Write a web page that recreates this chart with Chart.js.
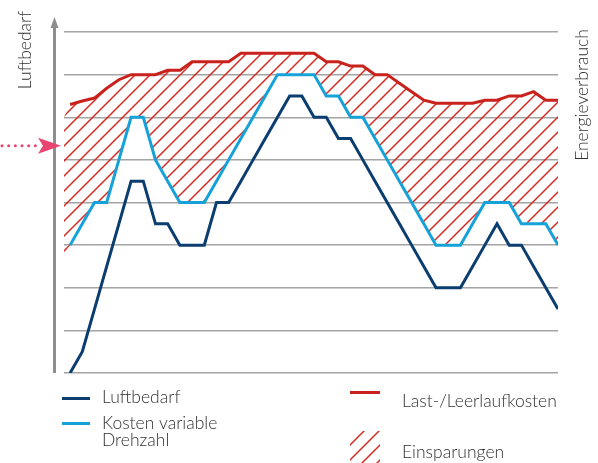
<!DOCTYPE html>
<html>
<head>
<meta charset="utf-8">
<script src="https://cdn.jsdelivr.net/npm/chart.js@4.4.1/dist/chart.umd.min.js"></script>
<style>
html, body { margin: 0; padding: 0; background: #fff; }
#wrap { width: 598px; height: 463px; }
</style>
</head>
<body>
<div id="wrap"><canvas id="c" width="598" height="463"></canvas></div>
<script>
// time steps along the x axis
const steps = [0,1,2,3,4,5,6,7,8,9,10,11,12,13,14,15,16,17,18,19,20,
               21,22,23,24,25,26,27,28,29,30,31,32,33,34,35,36,37,38,39,40];

const luftbedarf = [0,0.5,1.5,2.5,3.5,4.5,4.5,3.5,3.5,3,3,
                    3,4,4,4.5,5,5.5,6,6.5,6.5,6,
                    6,5.5,5.5,5,4.5,4,3.5,3,2.5,2,
                    2,2,2.5,3,3.5,3,3,2.5,2,1.5];

const kostenVariabel = [3,3.5,4,4,5,6,6,5,4.5,4,4,
                        4,4.5,5,5.5,6,6.5,7,7,7,7,
                        6.5,6.5,6,6,5.5,5,4.5,4,3.5,3,
                        3,3,3.5,4,4,4,3.5,3.5,3.5,3];

const lastLeerlauf = [6.3,6.38,6.45,6.68,6.88,7,7,7,7.1,7.1,7.3,
                      7.3,7.3,7.3,7.5,7.5,7.5,7.5,7.5,7.5,7.5,
                      7.3,7.3,7.2,7.2,7,7,6.8,6.6,6.4,6.33,
                      6.33,6.33,6.33,6.4,6.4,6.5,6.5,6.6,6.4,6.4];

// the hatched area starts a little left of the lines
const hatchStart = -0.5;
const hatchStartTop = 6.0;
const hatchStartBottom = 2.8;

const yTicks = [0,1,2,3,4,5,6,7,8];
const arrowLevel = 5.33;

const titleLeft = 'Luftbedarf';
const titleRight = 'Energieverbrauch';

const DARK = '#0b3e70', CYAN = '#15a2d8', RED = '#c9221d', HATCH = '#d42a22';
const TEXT = '#2f2f2f', AXIS = '#8e8e8e', PINK = '#e8446f';
const FONT = '300 17.5px Lato';

function pts(arr) {
  return arr.map((v, i) => ({ x: steps[i], y: v }));
}

function makeHatch() {
  const s = 15;
  const c = document.createElement('canvas');
  c.width = s; c.height = s;
  const g = c.getContext('2d');
  g.strokeStyle = HATCH;
  g.lineWidth = 1.5;
  g.beginPath();
  g.moveTo(0, s); g.lineTo(s, 0);
  g.moveTo(-2, 2); g.lineTo(2, -2);
  g.moveTo(s - 2, s + 2); g.lineTo(s + 2, s - 2);
  g.stroke();
  return g.createPattern(c, 'repeat');
}
const hatch = makeHatch();

const decor = {
  id: 'decor',
  afterDraw(chart) {
    const ctx = chart.ctx, a = chart.chartArea, y = chart.scales.y;
    ctx.save();

    // left axis with arrow
    const ax = a.left - 9.5;
    ctx.strokeStyle = AXIS;
    ctx.lineWidth = 3;
    ctx.beginPath(); ctx.moveTo(ax, a.bottom); ctx.lineTo(ax, 26); ctx.stroke();
    ctx.fillStyle = AXIS;
    ctx.beginPath(); ctx.moveTo(ax, 17); ctx.lineTo(ax - 4, 28); ctx.lineTo(ax + 4, 28); ctx.closePath(); ctx.fill();

    // pink dotted arrow
    const py = y.getPixelForValue(arrowLevel);
    ctx.fillStyle = PINK;
    for (let x = 2; x < 37; x += 6.67) {
      ctx.beginPath(); ctx.arc(x, py, 1.5, 0, Math.PI * 2); ctx.fill();
    }
    ctx.beginPath();
    ctx.moveTo(61, py); ctx.lineTo(38, py - 8); ctx.lineTo(43, py); ctx.lineTo(38, py + 8);
    ctx.closePath(); ctx.fill();

    // axis titles
    ctx.fillStyle = TEXT;
    ctx.font = FONT;
    ctx.textAlign = 'center';
    ctx.textBaseline = 'alphabetic';
    ctx.save(); ctx.translate(31, 50); ctx.rotate(-Math.PI / 2); ctx.fillText(titleLeft, 0, 0); ctx.restore();
    ctx.save(); ctx.translate(588, 95); ctx.rotate(-Math.PI / 2); ctx.fillText(titleRight, 0, 0); ctx.restore();

    // legend
    ctx.textAlign = 'left';
    ctx.lineWidth = 3;
    ctx.strokeStyle = DARK;
    ctx.beginPath(); ctx.moveTo(62, 398.5); ctx.lineTo(90, 398.5); ctx.stroke();
    ctx.strokeStyle = CYAN;
    ctx.beginPath(); ctx.moveTo(62, 423.5); ctx.lineTo(90, 423.5); ctx.stroke();
    ctx.strokeStyle = RED;
    ctx.beginPath(); ctx.moveTo(350, 392.5); ctx.lineTo(380, 392.5); ctx.stroke();
    ctx.fillStyle = hatch;
    ctx.fillRect(350, 431, 30, 32);

    ctx.fillStyle = TEXT;
    ctx.fillText('Luftbedarf', 102, 403);
    ctx.fillText('Kosten variable', 102, 429);
    ctx.fillText('Drehzahl', 102, 446);
    ctx.fillText('Last-/Leerlaufkosten', 402, 406.5);
    ctx.fillText('Einsparungen', 402, 457.5);

    ctx.restore();
  }
};

const lineStyle = { borderWidth: 3, pointRadius: 0, fill: false, tension: 0 };

new Chart(document.getElementById('c'), {
  type: 'line',
  data: {
    datasets: [
      Object.assign({ label: 'Luftbedarf', data: pts(luftbedarf), borderColor: DARK }, lineStyle),
      Object.assign({ label: 'Kosten variable Drehzahl', data: pts(kostenVariabel), borderColor: CYAN }, lineStyle),
      Object.assign({ label: 'Last-/Leerlaufkosten', data: pts(lastLeerlauf), borderColor: RED }, lineStyle),
      {
        label: 'hatch bottom',
        data: [{ x: hatchStart, y: hatchStartBottom }].concat(pts(kostenVariabel)),
        borderWidth: 0, borderColor: 'transparent', pointRadius: 0, fill: false
      },
      {
        label: 'Einsparungen',
        data: [{ x: hatchStart, y: hatchStartTop }].concat(pts(lastLeerlauf)),
        borderWidth: 0, borderColor: 'transparent', pointRadius: 0,
        fill: { target: 3 }, backgroundColor: hatch
      }
    ]
  },
  options: {
    responsive: false,
    animation: false,
    devicePixelRatio: 1,
    layout: { padding: { left: 64, right: 40, top: 32, bottom: 90 } },
    plugins: { legend: { display: false }, tooltip: { enabled: false } },
    elements: { line: { borderJoinStyle: 'miter' } },
    scales: {
      x: { type: 'linear', min: -0.5, max: 40, display: false },
      y: {
        min: 0, max: 8,
        afterBuildTicks: s => { s.ticks = yTicks.map(v => ({ value: v })); },
        ticks: { display: false },
        grid: { color: '#a4a4a4', lineWidth: 1.5, drawTicks: false },
        border: { display: false },
        afterFit: s => { s.width = 0; }
      }
    }
  },
  plugins: [decor]
});
</script>
</body>
</html>
